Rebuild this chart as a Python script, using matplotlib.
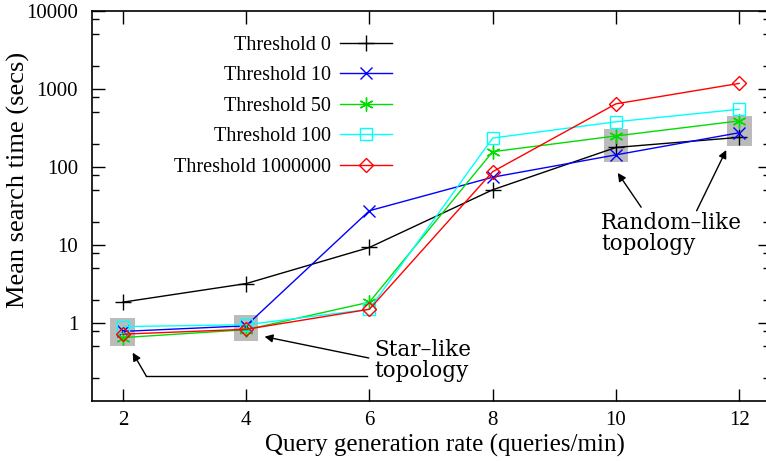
import numpy as np
import matplotlib
matplotlib.use("Agg")
import matplotlib.pyplot as plt
from matplotlib.ticker import FixedLocator, LogLocator, NullFormatter
from matplotlib.patches import Rectangle

plt.rcParams["font.family"] = ["Liberation Serif", "DejaVu Serif"]

# data
rates = [2, 4, 6, 8, 10, 12]
thr0 = [1.85, 3.2, 9.3, 51, 178, 240]
thr10 = [0.78, 0.92, 27.5, 74, 143, 275]
thr50 = [0.65, 0.82, 1.85, 157, 250, 390]
thr100 = [0.9, 0.95, 1.5, 235, 380, 550]
thr1m = [0.72, 0.83, 1.5, 87, 645, 1180]
labels = ["Threshold 0", "Threshold 10", "Threshold 50", "Threshold 100", "Threshold 1000000"]

# grey highlight boxes
box_x = [2, 4, 10, 12]
box_lo = [0.5, 0.59, 117, 188]
box_hi = [1.16, 1.27, 307, 450]

ytick_vals = [1, 10, 100, 1000, 10000]
ytick_labels = ["1", "10", "100", "1000", "10000"]
xtick_vals = [2, 4, 6, 8, 10, 12]

W, H = 766, 461
fig = plt.figure(figsize=(W / 100, H / 100), dpi=100)
left, right, top, bottom = 92, 770, 11, 401
ax = fig.add_axes([left / W, 1 - bottom / H, (right - left) / W, (bottom - top) / H])

for bx, lo, hi in zip(box_x, box_lo, box_hi):
    ax.add_patch(Rectangle((bx - 0.2, lo), 0.4, hi - lo, facecolor="#bbbbbb",
                           edgecolor="none", zorder=1))

series = [
    (thr0, "black", "+", dict(ms=11, mew=1.0)),
    (thr10, "#0000ff", "x", dict(ms=9, mew=1.0)),
    (thr50, "#00dd00", (6, 2, 0), dict(ms=10, mew=1.0)),
    (thr100, "#00ffff", "s", dict(ms=8, mew=1.0, mfc="none")),
    (thr1m, "#ff0000", "D", dict(ms=7, mew=1.0, mfc="none")),
]
for (vals, col, mk, kw), lab in zip(series, labels):
    ax.plot(rates, vals, color=col, marker=mk, lw=1.0, label=lab, zorder=3, **kw)

ax.set_yscale("log")
ax.set_xlim(1.5, 12.5)
ax.set_ylim(0.1, 10000)
ax.yaxis.set_major_locator(FixedLocator(ytick_vals))
ax.set_yticklabels(ytick_labels)
ax.yaxis.set_minor_locator(LogLocator(base=10, subs=(2, 5, 8)))
ax.yaxis.set_minor_formatter(NullFormatter())
ax.set_xticks(xtick_vals)
ax.tick_params(which="major", direction="in", length=9, width=1, labelsize=15,
               top=True, right=True, pad=7)
ax.tick_params(which="minor", direction="in", length=5, width=1, right=True)
ax.tick_params(axis="y", pad=10)
for s in ax.spines.values():
    s.set_linewidth(1.2)

ax.set_xlabel("Query generation rate (queries/min)", fontsize=18)
ax.set_ylabel("Mean search time (secs)", fontsize=19)
ax.xaxis.set_label_coords((445 - left) / (right - left), -(445 - bottom) / (bottom - top),
                          transform=ax.transAxes)
ax.xaxis.label.set_va("center")
ax.yaxis.set_label_coords(-(left - 18) / (right - left), (bottom - 180) / (bottom - top),
                          transform=ax.transAxes)
ax.yaxis.label.set_va("center")

leg = ax.legend(loc="upper right", bbox_to_anchor=(392 / W, 1 - 36 / H),
                bbox_transform=fig.transFigure, frameon=False, markerfirst=False,
                fontsize=14.5, handlelength=2.6, handletextpad=0.45,
                labelspacing=0.56, borderpad=0, borderaxespad=0)

# annotations
afont = dict(family="DejaVu Serif", fontsize=15.5)
arw = dict(arrowstyle="-|>", color="black", lw=1.0, mutation_scale=12,
           shrinkA=0, shrinkB=0)
ax.text(6.08, 0.33, "Star\u2013like\ntopology", va="center", ha="left",
        linespacing=0.95, **afont)
ax.annotate("", xy=(4.3, 0.668), xytext=(5.99, 0.356), arrowprops=arw)
ax.plot([5.96, 2.38], [0.209, 0.209], color="black", lw=1.0)
ax.annotate("", xy=(2.16, 0.417), xytext=(2.38, 0.209), arrowprops=arw)

ax.text(9.76, 14.2, "Random\u2013like\ntopology", va="center", ha="left",
        linespacing=0.95, **afont)
ax.annotate("", xy=(10.03, 84), xytext=(10.41, 30.5), arrowprops=arw)
ax.annotate("", xy=(11.79, 165), xytext=(11.31, 27.5), arrowprops=arw)

fig.savefig("out.png", dpi=100)
